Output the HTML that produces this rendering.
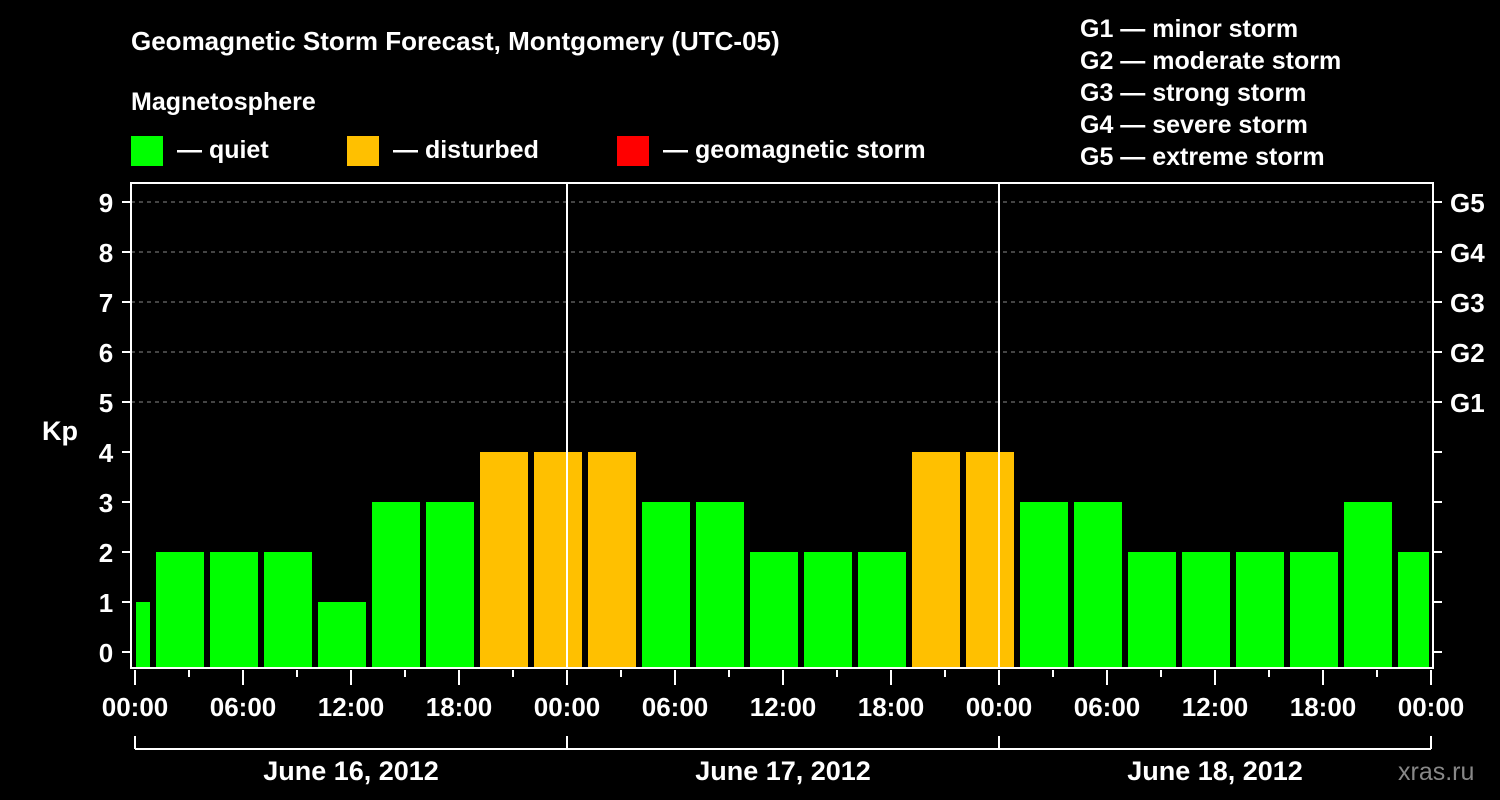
<!DOCTYPE html>
<html><head><meta charset="utf-8"><style>
body{margin:0;background:#000;}
svg{display:block;font-family:"Liberation Sans",sans-serif;font-weight:bold;}
</style></head><body>
<svg id="c" width="1500" height="800" viewBox="0 0 1500 800">
<rect width="1500" height="800" fill="#000"/>
<text x="131" y="50" fill="#fff" font-size="26">Geomagnetic Storm Forecast, Montgomery (UTC-05)</text>
<text x="131" y="110" fill="#fff" font-size="25">Magnetosphere</text>
<g><rect x="131" y="136" width="32" height="30" fill="#00ff00"/><text x="177" y="158" fill="#fff" font-size="25">— quiet</text></g>
<g><rect x="347" y="136" width="32" height="30" fill="#ffc000"/><text x="393" y="158" fill="#fff" font-size="25">— disturbed</text></g>
<g><rect x="617" y="136" width="32" height="30" fill="#ff0000"/><text x="663" y="158" fill="#fff" font-size="25">— geomagnetic storm</text></g>
<g fill="#fff" font-size="25">
<text x="1080" y="37">G1 — minor storm</text>
<text x="1080" y="69">G2 — moderate storm</text>
<text x="1080" y="101">G3 — strong storm</text>
<text x="1080" y="133">G4 — severe storm</text>
<text x="1080" y="165">G5 — extreme storm</text>
</g>
<g id="plot"></g>
<text x="42" y="440" fill="#fff" font-size="27">Kp</text>
<text x="1398" y="780" fill="#888" font-size="25" font-weight="normal">xras.ru</text>
</svg>
<script>
const kpValues=[1,2,2,2,1,3,3,4,4,4,3,3,2,2,2,4,4,3,3,2,2,2,2,3,2];
const dayLabels=["June 16, 2012","June 17, 2012","June 18, 2012"];
const hourLabels=["00:00","06:00","12:00","18:00"];
const gLabels=["G1","G2","G3","G4","G5"];
const X0=135,PX_H=18,L=131,R=1433,T=183,B=668;
const x=h=>X0+h*PX_H;
const y=v=>652-v*50;
const ns="http://www.w3.org/2000/svg";
const g=document.getElementById('plot');
function mk(tag,a,p){const e=document.createElementNS(ns,tag);for(const k in a)e.setAttribute(k,a[k]);(p||g).appendChild(e);return e;}
// grid
for(let v=5;v<=9;v++){const l=mk('line',{x1:L,x2:R,y1:y(v),y2:y(v),stroke:'#888','stroke-dasharray':'4,4','stroke-width':1});

}
// bars: 3h UTC intervals, starting at -2h local
kpValues.forEach((v,i)=>{
 let h0=-2+3*i, a=x(h0)+3, b=x(h0+3)-3;
 a=Math.max(a,X0+1); b=Math.min(b,R-4);
 const col=v>=5?'#ff0000':(v>=4?'#ffc000':'#00ff00');
 const r=mk('rect',{x:a,y:y(v),width:b-a,height:B-y(v),fill:col});
 
 
});
// day dividers
[1,2].forEach(d=>{const l=mk('line',{x1:x(24*d),x2:x(24*d),y1:T,y2:B,stroke:'#fff','stroke-width':2});

});
// frame
const f=mk('rect',{x:L,y:T,width:R-L,height:B-T,fill:'none',stroke:'#fff','stroke-width':2});


// y ticks
for(let v=0;v<=9;v++){
 mk('line',{x1:122,x2:L,y1:y(v),y2:y(v),stroke:'#fff','stroke-width':2});
 mk('line',{x1:R,x2:1442,y1:y(v),y2:y(v),stroke:'#fff','stroke-width':2});
 const t=mk('text',{x:106,y:y(v)+10,fill:'#fff','font-size':26,'text-anchor':'middle'});t.textContent=v;
 
 
}
gLabels.forEach((s,i)=>{const t=mk('text',{x:1450,y:y(5+i)+10,fill:'#fff','font-size':26});t.textContent=s;

});
// x ticks
for(let h=0;h<=72;h+=3){const major=h%6===0;
 mk('line',{x1:x(h),x2:x(h),y1:B+2,y2:major?685:677,stroke:'#fff','stroke-width':2});
 if(major){const t=mk('text',{x:x(h),y:716,fill:'#fff','font-size':26,'text-anchor':'middle'});t.textContent=hourLabels[(h/6)%4];
 
 }
}
// day brackets
mk('line',{x1:x(0),x2:x(72),y1:749,y2:749,stroke:'#fff','stroke-width':2});
for(let d=0;d<=3;d++)mk('line',{x1:x(24*d),x2:x(24*d),y1:736,y2:749,stroke:'#fff','stroke-width':2});
dayLabels.forEach((s,d)=>{const t=mk('text',{x:x(24*d+12),y:780,fill:'#fff','font-size':27,'text-anchor':'middle'});t.textContent=s;

});
</script>
</body></html>
